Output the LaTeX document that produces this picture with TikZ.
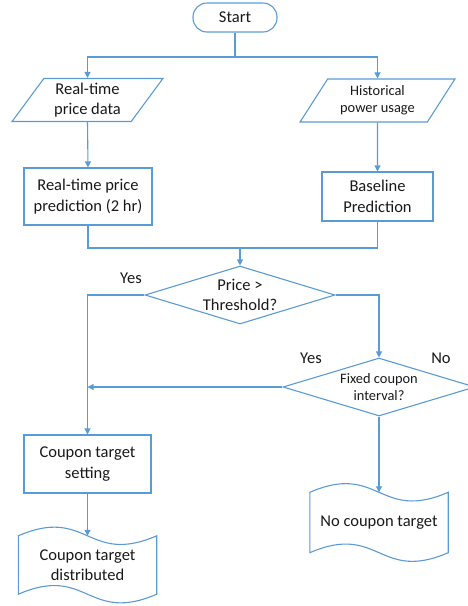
\documentclass[tikz,border=0pt]{standalone}
\usepackage{fontspec}
\setmainfont{Carlito}
\usepackage{tikz}
\usetikzlibrary{shapes.geometric,arrows.meta,calc}
\definecolor{flowblue}{RGB}{91,155,213}

% wavy outline for a document node
\newcommand{\docwave}[1]{%
  \draw[flow] (#1.north west) .. controls ($(#1.north)+(0,30)$) and ($(#1.north)+(0,-30)$) .. (#1.north east)
    -- (#1.south east) .. controls ($(#1.south)+(0,-30)$) and ($(#1.south)+(0,30)$) .. (#1.south west) -- cycle;}

\begin{document}
\begin{tikzpicture}[x=1pt,y=1pt,
    flow/.style={draw=flowblue, line width=1.1pt},
    arr/.style={flow, -{Triangle[width=6pt,length=6pt]}},
    big/.style={font=\fontsize{16.5}{20.5}\selectfont, align=center, text=black!90},
    small/.style={font=\fontsize{14.4}{17}\selectfont, align=center, text=black!90},
    terminal/.style={big, flow, rectangle, rounded corners=14pt, minimum width=84, minimum height=29, inner sep=0},
    io/.style={flow, trapezium, trapezium left angle=55, trapezium right angle=125,
        trapezium stretches=true, minimum height=43, inner sep=0},
    process/.style={big, flow, rectangle, inner sep=0},
    decision/.style={flow, diamond, aspect=3.3, inner sep=0},
    docnode/.style={rectangle, inner sep=0, minimum width=138}]
    \useasboundingbox (0,0) rectangle (468,-606);

    % nodes
    \node[terminal] (start) at (235,-17.5) {Start};
    \node[io,big,minimum width=151] (rtp) at (87.5,-100) {Real-time\\price data};
    \node[io,small,minimum width=155] (hist) at (377.5,-100.5) {Historical\\power usage};
    \node[process,minimum width=128,minimum height=57] (rtpp) at (88,-196.5) {Real-time price\\prediction (2 hr)};
    \node[process,minimum width=111,minimum height=49] (base) at (377.5,-196.5) {Baseline\\Prediction};
    \node[decision,big,minimum width=190,minimum height=58] (thr) at (240,-295) {Price >\\Threshold?};
    \node[decision,small,minimum width=192,minimum height=58] (fix) at (379,-387) {Fixed coupon\\interval?};
    \node[process,minimum width=127,minimum height=58] (cts) at (87.5,-464) {Coupon target\\setting};
    \node[docnode,big,minimum height=58] (dist) at (87.5,-565) {Coupon target\\distributed};
    \node[docnode,big,minimum height=60] (nocpn) at (379,-522.5) {No coupon target};
    \docwave{dist}
    \docwave{nocpn}

    \coordinate (split) at (235,-57);
    \coordinate (join) at (240,-248);

    % connectors
    \draw[flow] (start.south) -- (split);
    \draw[arr] (split) -| (rtp.north);
    \draw[arr] (split) -| (hist.north);
    \draw[arr] (rtp.south) -- (rtpp.north);
    \draw[arr] (hist.south) -- (base.north);
    \draw[flow] (rtpp.south) |- (join) -| (base.south);
    \draw[arr] (join) -- (thr.north);
    \draw[arr] (thr.west) -| (cts.north);
    \draw[arr] (thr.east) -| (fix.north);
    \draw[arr] (fix.west) -- (fix.west -| cts.north);
    \draw[arr] (fix.south) -- (nocpn.north);
    \draw[arr] (cts.south) -- (dist.north);

    % branch labels
    \node[big] (yes1) at (131,-278) {Yes};
    \node[big] (yes2) at (311,-358) {Yes};
    \node[big] (no2) at (441,-358) {No};
\end{tikzpicture}
\end{document}
